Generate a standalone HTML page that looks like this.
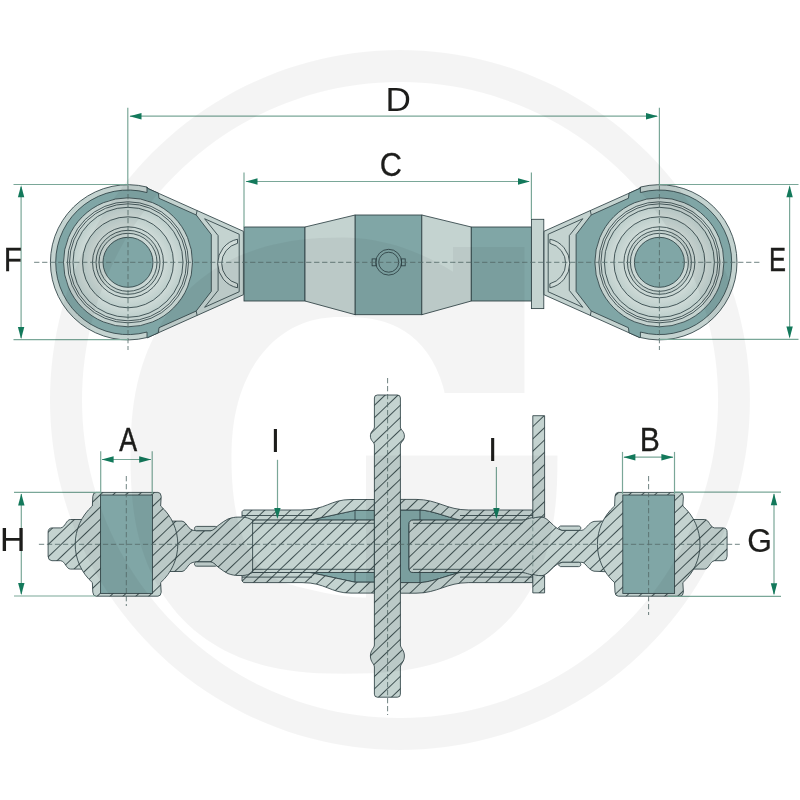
<!DOCTYPE html>
<html lang="en"><head><meta charset="utf-8"><title>Top link dimensions</title>
<style>html,body{margin:0;padding:0;background:#fff}body{width:800px;height:800px;overflow:hidden}svg{display:block;will-change:transform}text{font-family:"Liberation Sans",sans-serif}</style></head><body>
<svg width="800" height="800" viewBox="0 0 800 800">
<rect width="800" height="800" fill="#fff"/>
<defs>
<pattern id="hatch" patternUnits="userSpaceOnUse" width="40" height="8.912" patternTransform="translate(48.4 544.3) rotate(-43.7) translate(0 -4.456)"><line x1="-1" y1="4.456" x2="41" y2="4.456" stroke="#27383b" stroke-width="0.85"/></pattern>
<radialGradient id="rings" cx="50%" cy="50%" r="50%"><stop offset="0.0000" stop-color="#cbd8d5"/><stop offset="0.4496" stop-color="#cbd8d5"/><stop offset="0.4496" stop-color="#c2d0cd"/><stop offset="0.4961" stop-color="#c2d0cd"/><stop offset="0.4961" stop-color="#cbd8d5"/><stop offset="0.5504" stop-color="#cbd8d5"/><stop offset="0.5504" stop-color="#cedad7"/><stop offset="0.7054" stop-color="#becfcc"/><stop offset="0.7054" stop-color="#cedad7"/><stop offset="0.8527" stop-color="#becfcc"/><stop offset="0.8527" stop-color="#c4d2cf"/><stop offset="0.9070" stop-color="#c4d2cf"/><stop offset="0.9070" stop-color="#cedad7"/><stop offset="0.9380" stop-color="#cedad7"/><stop offset="0.9380" stop-color="#c4d2cf"/><stop offset="1.0000" stop-color="#c4d2cf"/></radialGradient>
</defs>
<g id="topview">
<rect x="244" y="227" width="61" height="74" fill="#80a6a6" stroke="#2e4144" stroke-width="0.85" />
<path d="M305,227 L355.2,215 L355.2,314.7 L305,301 Z" fill="#c4d3d0" stroke="#2e4144" stroke-width="0.85" />
<rect x="355.2" y="215" width="66.6" height="99.7" fill="#80a6a6" stroke="#2e4144" stroke-width="0.85" />
<path d="M421.8,215 L471.3,227 L471.3,301 L421.8,314.7 Z" fill="#c4d3d0" stroke="#2e4144" stroke-width="0.85" />
<rect x="471.3" y="227" width="60.1" height="74" fill="#80a6a6" stroke="#2e4144" stroke-width="0.85" />
<rect x="531.4" y="219.3" width="12.4" height="89.3" fill="#c4d3d0" stroke="#2e4144" stroke-width="0.85" />
<rect x="372.1" y="258.9" width="3.9" height="6.9" fill="none" stroke="#2e4144" stroke-width="0.85" />
<rect x="401.4" y="258.9" width="3.8" height="6.9" fill="none" stroke="#2e4144" stroke-width="0.85" />
<circle cx="388.7" cy="262.2" r="12.9" fill="none" stroke="#2e4144" stroke-width="0.85"/>
<circle cx="388.7" cy="262.2" r="10" fill="none" stroke="#2e4144" stroke-width="0.85"/>
<path d="M147,187.06 A77.6,77.6 0 1 0 147,337.54 L147.6,337.62 L243.4,294.7 L243.4,231.3 L147.6,188.38 Z" fill="#c4d3d0" stroke="#2e4144" stroke-width="0.85" />
<path d="M147,192.54 A72.3,72.3 0 1 0 147,332.06 L147,337.54 L147.6,337.62 L158.4,332.78 L159,327.71 L196.2,311.05 L211.3,291.4 L211.3,234.6 L196.2,214.95 L159,198.29 L158.4,193.22 L147.6,188.38 L147,187.06 Z" fill="#80a6a6" stroke="#2e4144" stroke-width="0.85" />
<line x1="197.1" y1="210.56" x2="196.2" y2="214.95" stroke="#2e4144" stroke-width="0.85" />
<line x1="197.1" y1="315.44" x2="196.2" y2="311.05" stroke="#2e4144" stroke-width="0.85" />
<path d="M204.6,218.72 L239.2,234.22 L239.2,291.78 L204.6,307.28" fill="none" stroke="#2e4144" stroke-width="0.85" />
<path d="M204.6,218.72 L218.1,235.6 L218.1,290.4 L204.6,307.28" fill="none" stroke="#2e4144" stroke-width="0.85" />
<path d="M237.5,239.21 A24.8,24.8 0 0 0 237.5,287.79 L237.5,283.69 A20.8,20.8 0 0 1 237.5,243.31 Z" fill="#cfdbd8" stroke="#2e4144" stroke-width="0.85" />
<circle cx="128" cy="262.3" r="64.5" fill="url(#rings)" stroke="#2e4144" stroke-width="0.85"/>
<circle cx="128" cy="262.3" r="60.5" fill="none" stroke="#2e4144" stroke-width="0.85"/>
<circle cx="128" cy="262.3" r="58.5" fill="none" stroke="#2e4144" stroke-width="0.85"/>
<circle cx="128" cy="262.3" r="55" fill="none" stroke="#2e4144" stroke-width="0.85"/>
<circle cx="128" cy="262.3" r="45.5" fill="none" stroke="#2e4144" stroke-width="0.85"/>
<circle cx="128" cy="262.3" r="35.5" fill="none" stroke="#2e4144" stroke-width="0.85"/>
<circle cx="128" cy="262.3" r="32" fill="none" stroke="#2e4144" stroke-width="0.85"/>
<circle cx="128" cy="262.3" r="29" fill="none" stroke="#2e4144" stroke-width="0.85"/>
<circle cx="128" cy="262.3" r="25" fill="#80a6a6" stroke="#2e4144" stroke-width="0.85"/>
<path d="M640.4,187.06 A77.6,77.6 0 1 1 640.4,337.54 L639.8,337.62 L544,294.7 L544,231.3 L639.8,188.38 Z" fill="#c4d3d0" stroke="#2e4144" stroke-width="0.85" />
<path d="M640.4,192.54 A72.3,72.3 0 1 1 640.4,332.06 L640.4,337.54 L639.8,337.62 L629,332.78 L628.4,327.71 L591.2,311.05 L576.1,291.4 L576.1,234.6 L591.2,214.95 L628.4,198.29 L629,193.22 L639.8,188.38 L640.4,187.06 Z" fill="#80a6a6" stroke="#2e4144" stroke-width="0.85" />
<line x1="590.3" y1="210.56" x2="591.2" y2="214.95" stroke="#2e4144" stroke-width="0.85" />
<line x1="590.3" y1="315.44" x2="591.2" y2="311.05" stroke="#2e4144" stroke-width="0.85" />
<path d="M582.8,218.72 L548.2,234.22 L548.2,291.78 L582.8,307.28" fill="none" stroke="#2e4144" stroke-width="0.85" />
<path d="M582.8,218.72 L569.3,235.6 L569.3,290.4 L582.8,307.28" fill="none" stroke="#2e4144" stroke-width="0.85" />
<path d="M549.9,239.21 A24.8,24.8 0 0 1 549.9,287.79 L549.9,283.69 A20.8,20.8 0 0 0 549.9,243.31 Z" fill="#cfdbd8" stroke="#2e4144" stroke-width="0.85" />
<circle cx="659.4" cy="262.3" r="64.5" fill="url(#rings)" stroke="#2e4144" stroke-width="0.85"/>
<circle cx="659.4" cy="262.3" r="60.5" fill="none" stroke="#2e4144" stroke-width="0.85"/>
<circle cx="659.4" cy="262.3" r="58.5" fill="none" stroke="#2e4144" stroke-width="0.85"/>
<circle cx="659.4" cy="262.3" r="55" fill="none" stroke="#2e4144" stroke-width="0.85"/>
<circle cx="659.4" cy="262.3" r="45.5" fill="none" stroke="#2e4144" stroke-width="0.85"/>
<circle cx="659.4" cy="262.3" r="35.5" fill="none" stroke="#2e4144" stroke-width="0.85"/>
<circle cx="659.4" cy="262.3" r="32" fill="none" stroke="#2e4144" stroke-width="0.85"/>
<circle cx="659.4" cy="262.3" r="29" fill="none" stroke="#2e4144" stroke-width="0.85"/>
<circle cx="659.4" cy="262.3" r="25" fill="#80a6a6" stroke="#2e4144" stroke-width="0.85"/>
</g>
<line x1="34.1" y1="262.3" x2="760.6" y2="262.3" stroke="#566d6b" stroke-width="0.85" stroke-dasharray="5.3 2.7" stroke-dashoffset="0"/>
<line x1="128" y1="186" x2="128" y2="350" stroke="#566d6b" stroke-width="0.85" stroke-dasharray="5.3 2.7" stroke-dashoffset="0"/>
<line x1="659.4" y1="186" x2="659.4" y2="350" stroke="#566d6b" stroke-width="0.85" stroke-dasharray="5.3 2.7" stroke-dashoffset="0"/>
<g id="section">
<path d="M86.5,519.5 L70.5,519.5 C66,519.7 65.5,527.1 60.7,527.9 L51.9,527.9 Q48.1,528.1 48.1,532.3 L48.1,556.3 Q48.1,560.5 51.9,560.7 L60.7,560.7 C65.5,561.5 66,568.9 70.5,569.1 L86.5,569.1 Z" fill="#c4d3d0" stroke="#2e4144" stroke-width="0.85" />
<path d="M86.5,519.5 L70.5,519.5 C66,519.7 65.5,527.1 60.7,527.9 L51.9,527.9 Q48.1,528.1 48.1,532.3 L48.1,556.3 Q48.1,560.5 51.9,560.7 L60.7,560.7 C65.5,561.5 66,568.9 70.5,569.1 L86.5,569.1 Z" fill="url(#hatch)" stroke="none" stroke-width="0.85" />
<path d="M688.7,519.5 L704.7,519.5 C709.2,519.7 709.7,527.1 714.5,527.9 L723.3,527.9 Q727.1,528.1 727.1,532.3 L727.1,556.3 Q727.1,560.5 723.3,560.7 L714.5,560.7 C709.7,561.5 709.2,568.9 704.7,569.1 L688.7,569.1 Z" fill="#c4d3d0" stroke="#2e4144" stroke-width="0.85" />
<path d="M688.7,519.5 L704.7,519.5 C709.2,519.7 709.7,527.1 714.5,527.9 L723.3,527.9 Q727.1,528.1 727.1,532.3 L727.1,556.3 Q727.1,560.5 723.3,560.7 L714.5,560.7 C709.7,561.5 709.2,568.9 704.7,569.1 L688.7,569.1 Z" fill="url(#hatch)" stroke="none" stroke-width="0.85" />
<path d="M310,520.1 L355,510.4 L374.4,510.4 L374.4,520.1 Z" fill="#80a6a6" stroke="#2e4144" stroke-width="0.85" />
<path d="M310,572.5 L355,582.2 L374.4,582.2 L374.4,572.5 Z" fill="#80a6a6" stroke="#2e4144" stroke-width="0.85" />
<path d="M400.4,510 L420.5,510 C432,510.7 446,516.7 460,520.1 L413.2,520.1 Q409,520.1 409,524.3 L409,568.3 Q409,572.5 413.2,572.5 L460,572.5 C446,575.9 432,581.9 420.5,582.6 L400.4,582.6 Z" fill="#80a6a6" stroke="#2e4144" stroke-width="0.85" />
<path d="M242,511.7 L243.6,510 L302,510 C326,510 330,499.5 351,499.5 L374.4,499.5 L374.4,510.4 L355,510.4 L310,520.1 L242,520.1 Z" fill="#c4d3d0" stroke="#2e4144" stroke-width="0.85" />
<path d="M242,511.7 L243.6,510 L302,510 C326,510 330,499.5 351,499.5 L374.4,499.5 L374.4,510.4 L355,510.4 L310,520.1 L242,520.1 Z" fill="url(#hatch)" stroke="none" stroke-width="0.85" />
<path d="M400.4,499.4 L416,499.4 C438,499.4 446,510 468.8,510 L532.8,510 L532.8,520.1 L460,520.1 C446,516.7 432,510.7 420.5,510 L400.4,510 Z" fill="#c4d3d0" stroke="#2e4144" stroke-width="0.85" />
<path d="M400.4,499.4 L416,499.4 C438,499.4 446,510 468.8,510 L532.8,510 L532.8,520.1 L460,520.1 C446,516.7 432,510.7 420.5,510 L400.4,510 Z" fill="url(#hatch)" stroke="none" stroke-width="0.85" />
<path d="M242,580.9 L243.6,582.6 L302,582.6 C326,582.6 330,593.1 351,593.1 L374.4,593.1 L374.4,582.2 L355,582.2 L310,572.5 L242,572.5 Z" fill="#c4d3d0" stroke="#2e4144" stroke-width="0.85" />
<path d="M242,580.9 L243.6,582.6 L302,582.6 C326,582.6 330,593.1 351,593.1 L374.4,593.1 L374.4,582.2 L355,582.2 L310,572.5 L242,572.5 Z" fill="url(#hatch)" stroke="none" stroke-width="0.85" />
<path d="M400.4,593.2 L416,593.2 C438,593.2 446,582.6 468.8,582.6 L532.8,582.6 L532.8,572.5 L460,572.5 C446,575.9 432,581.9 420.5,582.6 L400.4,582.6 Z" fill="#c4d3d0" stroke="#2e4144" stroke-width="0.85" />
<path d="M400.4,593.2 L416,593.2 C438,593.2 446,582.6 468.8,582.6 L532.8,582.6 L532.8,572.5 L460,572.5 C446,575.9 432,581.9 420.5,582.6 L400.4,582.6 Z" fill="url(#hatch)" stroke="none" stroke-width="0.85" />
<path d="M168,521.1 L182,521.1 C185,521.5 186.5,524.8 189,527.8 C191,529.8 193,530.5 196,530.7 L211,530.7 C216,527.8 222,521.8 228,519 C232,517.6 235,517.1 238,517.1 L242.5,517.1 C246,517.1 249,518.3 252.6,520.1 L374.4,520.1 L374.4,572.5 L252.6,572.5 C249,574.3 246,575.5 242.5,575.5 L238,575.5 C235,575.5 232,575 228,573.6 C222,570.8 216,564.8 211,561.9 L196,561.9 C193,562.1 191,562.8 189,564.8 C186.5,567.8 185,571.1 182,571.5 L168,571.5 Z" fill="#c4d3d0" stroke="#2e4144" stroke-width="0.85" />
<path d="M168,521.1 L182,521.1 C185,521.5 186.5,524.8 189,527.8 C191,529.8 193,530.5 196,530.7 L211,530.7 C216,527.8 222,521.8 228,519 C232,517.6 235,517.1 238,517.1 L242.5,517.1 C246,517.1 249,518.3 252.6,520.1 L374.4,520.1 L374.4,572.5 L252.6,572.5 C249,574.3 246,575.5 242.5,575.5 L238,575.5 C235,575.5 232,575 228,573.6 C222,570.8 216,564.8 211,561.9 L196,561.9 C193,562.1 191,562.8 189,564.8 C186.5,567.8 185,571.1 182,571.5 L168,571.5 Z" fill="url(#hatch)" stroke="none" stroke-width="0.85" />
<path d="M196.3,530.7 C193.8,530.3 193.8,526.5 196.6,526.4 L215.4,526.4 L216.6,527 C214.6,528.9 213,530.3 211,530.7 Z" fill="#c4d3d0" stroke="#2e4144" stroke-width="0.85" />
<path d="M196.3,561.9 C193.8,562.3 193.8,566.1 196.6,566.2 L215.4,566.2 L216.6,565.6 C214.6,563.7 213,562.3 211,561.9 Z" fill="#c4d3d0" stroke="#2e4144" stroke-width="0.85" />
<line x1="252.6" y1="520.1" x2="252.6" y2="572.5" stroke="#2e4144" stroke-width="0.85" />
<path d="M409,524.3 Q409,520.1 413.2,520.1 L522,520.1 C527,519.9 531,516.7 540,516.7 C549,516.7 553,528.8 562,530.3 L582,530.3 C586,529.7 588,522.8 594,521.4 L610,520.7 L610,571.9 L594,571.2 C588,569.8 586,562.9 582,562.3 L562,562.3 C553,563.8 549,575.9 540,575.9 C531,575.9 527,572.7 522,572.5 L413.2,572.5 Q409,572.5 409,568.3 Z" fill="#c4d3d0" stroke="#2e4144" stroke-width="0.85" />
<path d="M409,524.3 Q409,520.1 413.2,520.1 L522,520.1 C527,519.9 531,516.7 540,516.7 C549,516.7 553,528.8 562,530.3 L582,530.3 C586,529.7 588,522.8 594,521.4 L610,520.7 L610,571.9 L594,571.2 C588,569.8 586,562.9 582,562.3 L562,562.3 C553,563.8 549,575.9 540,575.9 C531,575.9 527,572.7 522,572.5 L413.2,572.5 Q409,572.5 409,568.3 Z" fill="url(#hatch)" stroke="none" stroke-width="0.85" />
<path d="M578.7,530.3 C581.5,529.9 581.5,526.2 578.7,526 L560.5,526 L558.3,527.7 C559.6,529 560.6,529.9 562,530.3 Z" fill="#c4d3d0" stroke="#2e4144" stroke-width="0.85" />
<path d="M578.7,562.3 C581.5,562.7 581.5,566.4 578.7,566.6 L560.5,566.6 L558.3,564.9 C559.6,563.6 560.6,562.7 562,562.3 Z" fill="#c4d3d0" stroke="#2e4144" stroke-width="0.85" />
<line x1="242" y1="515.5" x2="312" y2="515.5" stroke="#2e4144" stroke-width="0.85" />
<line x1="252.6" y1="523.3" x2="374.4" y2="523.3" stroke="#2e4144" stroke-width="0.85" />
<line x1="355" y1="510.4" x2="355" y2="520.1" stroke="#2e4144" stroke-width="0.85" />
<line x1="420" y1="510" x2="420" y2="520.1" stroke="#2e4144" stroke-width="0.85" />
<line x1="460" y1="515.5" x2="532.8" y2="515.5" stroke="#2e4144" stroke-width="0.85" />
<line x1="413" y1="523.3" x2="522.5" y2="523.3" stroke="#2e4144" stroke-width="0.85" />
<line x1="242" y1="577.1" x2="312" y2="577.1" stroke="#2e4144" stroke-width="0.85" />
<line x1="252.6" y1="569.3" x2="374.4" y2="569.3" stroke="#2e4144" stroke-width="0.85" />
<line x1="355" y1="582.2" x2="355" y2="572.5" stroke="#2e4144" stroke-width="0.85" />
<line x1="420" y1="582.6" x2="420" y2="572.5" stroke="#2e4144" stroke-width="0.85" />
<line x1="460" y1="577.1" x2="532.8" y2="577.1" stroke="#2e4144" stroke-width="0.85" />
<line x1="413" y1="569.3" x2="522.5" y2="569.3" stroke="#2e4144" stroke-width="0.85" />
<path d="M96.1,492.4 L157.9,492.4 Q160.9,492.4 161.2,496.4 L160.63,506 A51.3,51.3 0 0 1 160.63,582.6 L161.2,592.2 Q160.9,596.2 157.9,596.2 L96.1,596.2 Q93.1,596.2 92.8,592.2 L92.37,582.6 A51.3,51.3 0 0 1 92.37,506 L92.8,496.4 Q93.1,492.4 96.1,492.4 Z" fill="#c4d3d0" stroke="#2e4144" stroke-width="0.85" />
<path d="M96.1,492.4 L157.9,492.4 Q160.9,492.4 161.2,496.4 L160.63,506 A51.3,51.3 0 0 1 160.63,582.6 L161.2,592.2 Q160.9,596.2 157.9,596.2 L96.1,596.2 Q93.1,596.2 92.8,592.2 L92.37,582.6 A51.3,51.3 0 0 1 92.37,506 L92.8,496.4 Q93.1,492.4 96.1,492.4 Z" fill="url(#hatch)" stroke="none" stroke-width="0.85" />
<rect x="100.6" y="495" width="51.8" height="98.4" fill="#80a6a6" stroke="#2e4144" stroke-width="0.85" />
<path d="M618.3,492.4 L680.1,492.4 Q683.1,492.4 683.4,496.4 L682.83,506 A51.3,51.3 0 0 1 682.83,582.6 L683.4,592.2 Q683.1,596.2 680.1,596.2 L618.3,596.2 Q615.3,596.2 615,592.2 L614.57,582.6 A51.3,51.3 0 0 1 614.57,506 L615,496.4 Q615.3,492.4 618.3,492.4 Z" fill="#c4d3d0" stroke="#2e4144" stroke-width="0.85" />
<path d="M618.3,492.4 L680.1,492.4 Q683.1,492.4 683.4,496.4 L682.83,506 A51.3,51.3 0 0 1 682.83,582.6 L683.4,592.2 Q683.1,596.2 680.1,596.2 L618.3,596.2 Q615.3,596.2 615,592.2 L614.57,582.6 A51.3,51.3 0 0 1 614.57,506 L615,496.4 Q615.3,492.4 618.3,492.4 Z" fill="url(#hatch)" stroke="none" stroke-width="0.85" />
<rect x="622.8" y="495" width="51.8" height="98.4" fill="#80a6a6" stroke="#2e4144" stroke-width="0.85" />
<path d="M532.8,415.7 L544.6,415.7 L544.6,517.1 C541,516.5 536,517.1 532.8,518.3 Z" fill="#c4d3d0" stroke="#2e4144" stroke-width="0.85" />
<path d="M532.8,415.7 L544.6,415.7 L544.6,517.1 C541,516.5 536,517.1 532.8,518.3 Z" fill="url(#hatch)" stroke="none" stroke-width="0.85" />
<path d="M532.8,574.3 C536,575.5 541,576.1 544.6,575.5 L544.6,592.9 L532.8,592.9 Z" fill="#c4d3d0" stroke="#2e4144" stroke-width="0.85" />
<path d="M532.8,574.3 C536,575.5 541,576.1 544.6,575.5 L544.6,592.9 L532.8,592.9 Z" fill="url(#hatch)" stroke="none" stroke-width="0.85" />
<line x1="532.8" y1="520.3" x2="532.8" y2="572.3" stroke="#7e9594" stroke-width="0.9" stroke-dasharray="4 3"/>
<path d="M377.4,395 L397.4,395 Q400.4,395 400.4,398 L400.4,427 C400.4,430 404.4,431 404.4,436 C404.4,441 400.4,442 400.4,445 L400.4,645 C400.4,648 404.4,650 404.4,656 C404.4,662 400.4,664 400.4,667 L400.4,694.2 Q400.4,697.2 397.4,697.2 L377.4,697.2 Q374.4,697.2 374.4,694.2 L374.4,667 C374.4,664 370.4,662 370.4,656 C370.4,650 374.4,648 374.4,645 L374.4,445 C374.4,442 370.4,441 370.4,436 C370.4,431 374.4,430 374.4,427 L374.4,398 Q374.4,395 377.4,395 Z" fill="#c4d3d0" stroke="#2e4144" stroke-width="0.85" />
<path d="M377.4,395 L397.4,395 Q400.4,395 400.4,398 L400.4,427 C400.4,430 404.4,431 404.4,436 C404.4,441 400.4,442 400.4,445 L400.4,645 C400.4,648 404.4,650 404.4,656 C404.4,662 400.4,664 400.4,667 L400.4,694.2 Q400.4,697.2 397.4,697.2 L377.4,697.2 Q374.4,697.2 374.4,694.2 L374.4,667 C374.4,664 370.4,662 370.4,656 C370.4,650 374.4,648 374.4,645 L374.4,445 C374.4,442 370.4,441 370.4,436 C370.4,431 374.4,430 374.4,427 L374.4,398 Q374.4,395 377.4,395 Z" fill="url(#hatch)" stroke="none" stroke-width="0.85" />
</g>
<line x1="38.9" y1="544.3" x2="739.8" y2="544.3" stroke="#566d6b" stroke-width="0.85" stroke-dasharray="5.3 2.7" stroke-dashoffset="0"/>
<line x1="126.3" y1="476" x2="126.3" y2="606" stroke="#566d6b" stroke-width="0.85" stroke-dasharray="5.3 2.7" stroke-dashoffset="0"/>
<line x1="648.6" y1="476" x2="648.6" y2="615" stroke="#566d6b" stroke-width="0.85" stroke-dasharray="5.3 2.7" stroke-dashoffset="0"/>
<line x1="387.6" y1="378" x2="387.6" y2="715" stroke="#566d6b" stroke-width="0.85" stroke-dasharray="5.3 2.7" stroke-dashoffset="0"/>
<g id="dims">
<line x1="127.8" y1="107.8" x2="127.8" y2="186" stroke="#7aa798" stroke-width="1.2" />
<line x1="659.4" y1="107.8" x2="659.4" y2="186" stroke="#7aa798" stroke-width="1.2" />
<line x1="130" y1="116.2" x2="657" y2="116.2" stroke="#7aa798" stroke-width="1.2" />
<polygon points="129.5,116.2 141.5,113 141.5,119.4" fill="#13795b"/>
<polygon points="658,116.2 646,113 646,119.4" fill="#13795b"/>
<line x1="244" y1="172.5" x2="244" y2="227" stroke="#7aa798" stroke-width="1.2" />
<line x1="531.4" y1="172.5" x2="531.4" y2="219" stroke="#7aa798" stroke-width="1.2" />
<line x1="246" y1="181.5" x2="529" y2="181.5" stroke="#7aa798" stroke-width="1.2" />
<polygon points="245.5,181.5 257.5,178.3 257.5,184.7" fill="#13795b"/>
<polygon points="530,181.5 518,178.3 518,184.7" fill="#13795b"/>
<line x1="13.5" y1="184.5" x2="128" y2="184.5" stroke="#7aa798" stroke-width="1.2" />
<line x1="13.5" y1="339.7" x2="128" y2="339.7" stroke="#7aa798" stroke-width="1.2" />
<line x1="21.1" y1="187" x2="21.1" y2="338" stroke="#7aa798" stroke-width="1.2" />
<polygon points="21.1,185.2 17.9,197.2 24.3,197.2" fill="#13795b"/>
<polygon points="21.1,339 17.9,327 24.3,327" fill="#13795b"/>
<line x1="659.4" y1="184.5" x2="798.5" y2="184.5" stroke="#7aa798" stroke-width="1.2" />
<line x1="659.4" y1="339.3" x2="798.5" y2="339.3" stroke="#7aa798" stroke-width="1.2" />
<line x1="789.6" y1="187" x2="789.6" y2="337" stroke="#7aa798" stroke-width="1.2" />
<polygon points="789.6,185.3 786.4,197.3 792.8,197.3" fill="#13795b"/>
<polygon points="789.6,338.6 786.4,326.6 792.8,326.6" fill="#13795b"/>
<line x1="100.7" y1="451.2" x2="100.7" y2="494" stroke="#7aa798" stroke-width="1.2" />
<line x1="152.2" y1="451.2" x2="152.2" y2="494" stroke="#7aa798" stroke-width="1.2" />
<line x1="102" y1="459.5" x2="151" y2="459.5" stroke="#7aa798" stroke-width="1.2" />
<polygon points="101.6,459.5 113.6,456.3 113.6,462.7" fill="#13795b"/>
<polygon points="151.2,459.5 139.2,456.3 139.2,462.7" fill="#13795b"/>
<line x1="622.5" y1="451.9" x2="622.5" y2="494" stroke="#7aa798" stroke-width="1.2" />
<line x1="674.5" y1="451.9" x2="674.5" y2="494" stroke="#7aa798" stroke-width="1.2" />
<line x1="624" y1="457.2" x2="673" y2="457.2" stroke="#7aa798" stroke-width="1.2" />
<polygon points="623.4,457.2 635.4,454 635.4,460.4" fill="#13795b"/>
<polygon points="673.4,457.2 661.4,454 661.4,460.4" fill="#13795b"/>
<line x1="14" y1="492.4" x2="100" y2="492.4" stroke="#7aa798" stroke-width="1.2" />
<line x1="14" y1="596" x2="96" y2="596" stroke="#7aa798" stroke-width="1.2" />
<line x1="21.3" y1="494" x2="21.3" y2="594" stroke="#7aa798" stroke-width="1.2" />
<polygon points="21.3,493.4 18.1,505.4 24.5,505.4" fill="#13795b"/>
<polygon points="21.3,595 18.1,583 24.5,583" fill="#13795b"/>
<line x1="674.4" y1="492.2" x2="781" y2="492.2" stroke="#7aa798" stroke-width="1.2" />
<line x1="668" y1="596.3" x2="781" y2="596.3" stroke="#7aa798" stroke-width="1.2" />
<line x1="774" y1="494" x2="774" y2="594" stroke="#7aa798" stroke-width="1.2" />
<polygon points="774,493.2 770.8,505.2 777.2,505.2" fill="#13795b"/>
<polygon points="774,595.3 770.8,583.3 777.2,583.3" fill="#13795b"/>
<line x1="277.5" y1="459.8" x2="277.5" y2="508" stroke="#7aa798" stroke-width="1.2" />
<polygon points="277.4,519 274.2,508 280.6,508" fill="#13795b"/>
<line x1="496.4" y1="467" x2="496.4" y2="508" stroke="#7aa798" stroke-width="1.2" />
<polygon points="496.4,519 493.2,508 499.6,508" fill="#13795b"/>
</g>
<g id="labels">
<text transform="translate(398.1 110.8) scale(1.05 1)" font-size="33.5" text-anchor="middle" fill="#1d1d1b">D</text>
<text transform="translate(390.9 175.9) scale(0.92 1)" font-size="33.5" text-anchor="middle" fill="#1d1d1b" stroke="#1d1d1b" stroke-width="0.25" stroke-linejoin="miter">C</text>
<text transform="translate(12.9 270.9) scale(0.89 1)" font-size="33.5" text-anchor="middle" fill="#1d1d1b" stroke="#1d1d1b" stroke-width="0.3" stroke-linejoin="miter">F</text>
<text transform="translate(777.5 270.9) scale(0.76 1)" font-size="33.5" text-anchor="middle" fill="#1d1d1b" stroke="#1d1d1b" stroke-width="0.5" stroke-linejoin="miter">E</text>
<text transform="translate(128.3 450.5) scale(0.8 1)" font-size="33.5" text-anchor="middle" fill="#1d1d1b" stroke="#1d1d1b" stroke-width="0.45" stroke-linejoin="miter">A</text>
<text transform="translate(649.7 450.9) scale(0.9 1)" font-size="33.5" text-anchor="middle" fill="#1d1d1b" stroke="#1d1d1b" stroke-width="0.3" stroke-linejoin="miter">B</text>
<text transform="translate(12.6 551.4) scale(1.07 1)" font-size="33.5" text-anchor="middle" fill="#1d1d1b">H</text>
<text transform="translate(759.7 551.7) scale(0.95 1)" font-size="33.5" text-anchor="middle" fill="#1d1d1b" stroke="#1d1d1b" stroke-width="0.2" stroke-linejoin="miter">G</text>
<text x="275.5" y="451.9" font-size="33.5" text-anchor="middle" fill="#1d1d1b">I</text>
<text x="492.7" y="460.6" font-size="33.5" text-anchor="middle" fill="#1d1d1b">I</text>
</g>
<g id="watermark" fill="#000" fill-opacity="0.044" fill-rule="evenodd">
<path d="M400,50 A350,350 0 1 1 399.9,50 Z M400,82 A318,318 0 1 0 400.1,82 Z"/>
<path d="M366,455.5 L557.5,455.5 L557.37,472.26 L556.98,484.71 L556.34,495.79 L555.44,506.04 L554.28,515.7 L552.86,524.87 L551.19,533.65 L549.26,542.06 L547.08,550.16 L544.65,557.96 L541.96,565.48 L539.02,572.72 L535.84,579.71 L532.41,586.44 L528.73,592.93 L524.8,599.16 L520.64,605.15 L516.23,610.89 L511.58,616.39 L506.68,621.65 L501.55,626.66 L496.19,631.42 L490.58,635.94 L484.73,640.21 L478.65,644.23 L472.32,648 L465.75,651.51 L458.93,654.77 L451.85,657.78 L444.51,660.53 L436.9,663.03 L428.99,665.26 L420.78,667.23 L412.21,668.95 L403.25,670.4 L393.83,671.59 L383.82,672.51 L373,673.17 L360.85,673.57 L344,673.7 L328.81,673.56 L317.27,673.15 L306.82,672.46 L297.04,671.5 L287.77,670.26 L278.89,668.75 L270.36,666.97 L262.14,664.92 L254.2,662.6 L246.53,660.01 L239.12,657.16 L231.94,654.04 L225.01,650.66 L218.32,647.01 L211.86,643.11 L205.64,638.96 L199.65,634.54 L193.9,629.88 L188.39,624.97 L183.11,619.81 L178.07,614.4 L173.28,608.75 L168.72,602.86 L164.42,596.73 L160.36,590.35 L156.55,583.74 L153,576.88 L149.69,569.79 L146.65,562.44 L143.86,554.84 L141.34,546.98 L139.07,538.85 L137.07,530.43 L135.33,521.69 L133.85,512.6 L132.65,503.1 L131.71,493.09 L131.04,482.39 L130.63,470.56 L130.5,455 L130.64,441.17 L131.06,430.07 L131.76,419.83 L132.74,410.15 L134,400.87 L135.53,391.94 L137.34,383.31 L139.43,374.94 L141.78,366.83 L144.41,358.97 L147.31,351.33 L150.47,343.93 L153.9,336.76 L157.59,329.82 L161.53,323.11 L165.74,316.63 L170.19,310.38 L174.89,304.37 L179.84,298.59 L185.04,293.06 L190.47,287.77 L196.14,282.73 L202.04,277.93 L208.17,273.4 L214.53,269.12 L221.12,265.09 L227.94,261.34 L234.98,257.85 L242.24,254.62 L249.73,251.67 L257.45,249 L265.41,246.59 L273.62,244.47 L282.1,242.63 L290.87,241.06 L299.97,239.78 L309.48,238.78 L319.53,238.07 L330.42,237.64 L344,237.5 L351.07,237.68 L358.65,238.21 L366.42,239.09 L374.29,240.32 L382.22,241.9 L390.17,243.82 L398.11,246.09 L406.02,248.69 L413.88,251.63 L421.68,254.89 L429.38,258.48 L436.98,262.38 L444.46,266.59 L451.81,271.1 L453,271.87 L453,247 L524.5,247 L524.5,393 L444.53,393 L444.03,390.39 L442.68,385.59 L441.2,380.96 L439.59,376.51 L437.86,372.23 L436.01,368.1 L434.03,364.14 L431.92,360.34 L429.7,356.7 L427.35,353.21 L424.88,349.88 L422.28,346.71 L419.56,343.69 L416.72,340.83 L413.76,338.14 L410.67,335.6 L407.46,333.21 L404.12,330.99 L400.65,328.93 L397.05,327.04 L393.3,325.3 L389.41,323.73 L385.37,322.32 L381.16,321.08 L376.76,320 L372.15,319.08 L367.28,318.33 L362.09,317.75 L356.46,317.33 L350.07,317.08 L341,317 L335.23,317.1 L330.17,317.39 L325.36,317.89 L320.72,318.57 L316.22,319.46 L311.82,320.53 L307.54,321.8 L303.35,323.27 L299.26,324.92 L295.27,326.76 L291.38,328.78 L287.59,330.99 L283.9,333.38 L280.31,335.96 L276.83,338.7 L273.45,341.62 L270.19,344.71 L267.04,347.97 L264.01,351.39 L261.09,354.97 L258.3,358.71 L255.64,362.6 L253.1,366.64 L250.69,370.83 L248.41,375.16 L246.27,379.63 L244.27,384.23 L242.41,388.97 L240.68,393.83 L239.1,398.83 L237.67,403.95 L236.38,409.19 L235.24,414.56 L234.25,420.06 L233.41,425.7 L232.73,431.48 L232.19,437.44 L231.81,443.61 L231.58,450.1 L231.5,457.5 L231.6,466.4 L231.89,474.99 L232.37,483.26 L233.04,491.21 L233.91,498.84 L234.98,506.16 L236.23,513.16 L237.69,519.84 L239.33,526.21 L241.17,532.26 L243.21,537.99 L245.44,543.41 L247.86,548.51 L250.48,553.29 L253.3,557.76 L256.31,561.91 L259.52,565.74 L262.93,569.26 L266.53,572.47 L270.33,575.35 L274.33,577.93 L278.52,580.18 L282.91,582.12 L287.5,583.75 L290.35,584.54 L293.27,585.33 L296.27,586.14 L299.32,586.94 L302.44,587.74 L305.6,588.54 L308.82,589.32 L312.07,590.09 L315.37,590.85 L318.7,591.58 L322.06,592.29 L325.44,592.97 L328.84,593.62 L332.25,594.23 L335.67,594.8 L339.09,595.32 L342.51,595.8 L345.93,596.23 L349.33,596.6 L352.72,596.92 L356.08,597.17 L359.42,597.35 L362.73,597.46 L366,597.5 Z"/>
</g>
</svg></body></html>
